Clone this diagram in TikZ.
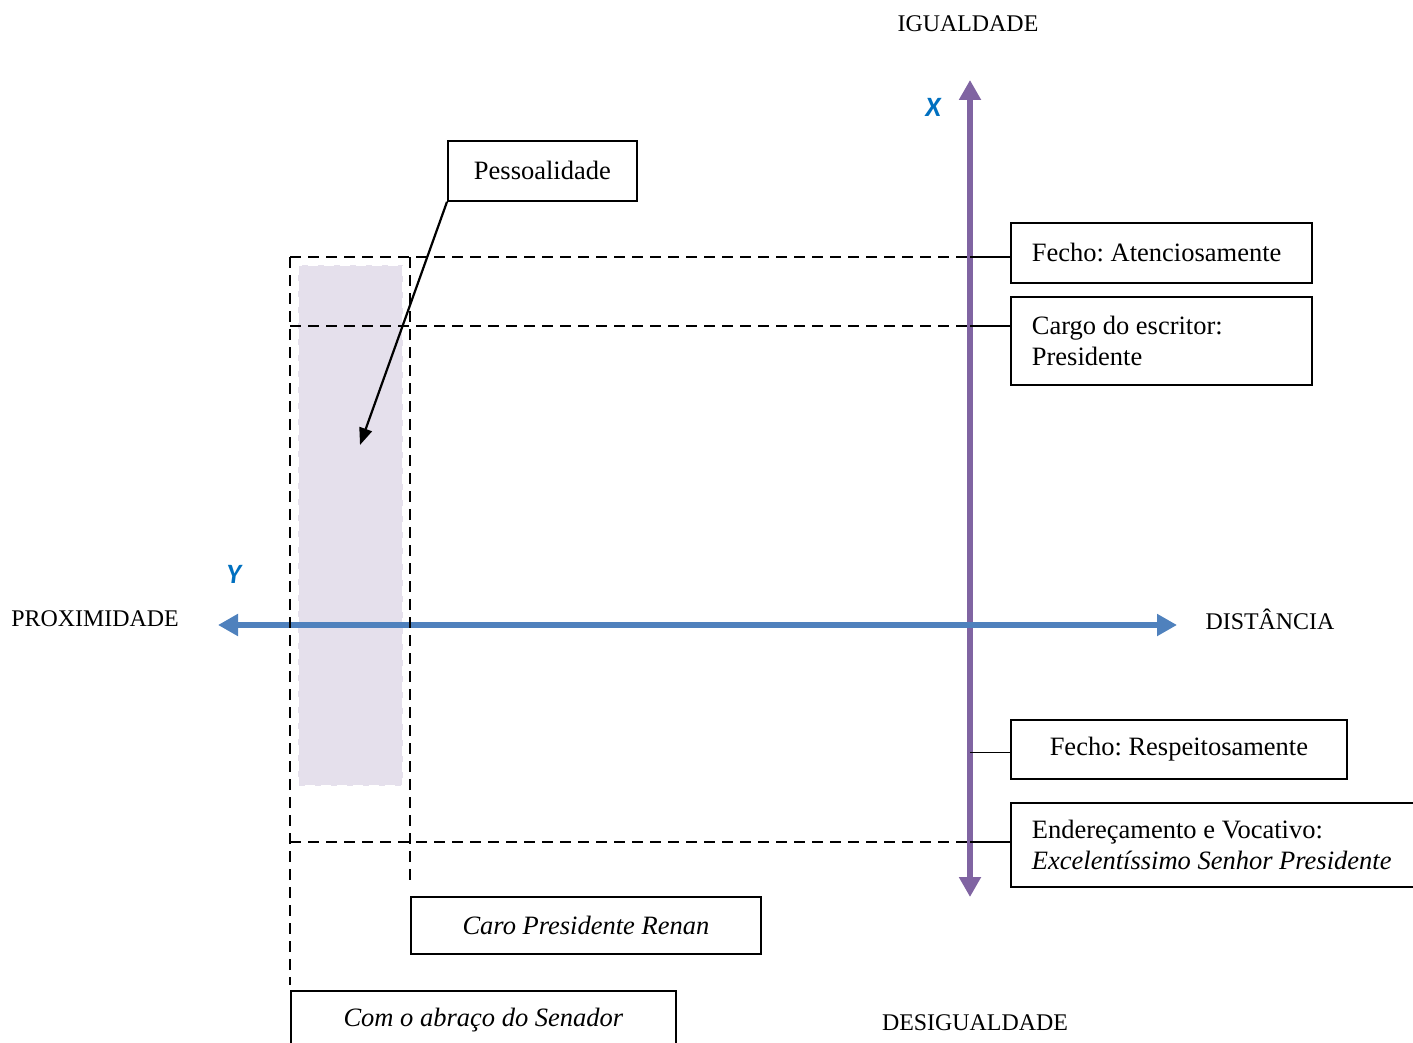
\documentclass[tikz,border=0pt]{standalone}
\usepackage{fontspec}
\setmainfont{Liberation Serif}
\newfontfamily\axisfont{Carlito}
\usepackage{tikz}
\usetikzlibrary{
  arrows.meta,
  positioning
}
\frenchspacing
\definecolor{AxisPurple}{RGB}{128,100,162}
\definecolor{AxisBlue}{RGB}{79,129,189}
\definecolor{LabelBlue}{RGB}{0,112,192}
\definecolor{ShadeLilac}{RGB}{229,224,236}
\newcommand{\boxfont}{\fontsize{26.5}{31}\selectfont}
\newcommand{\polefont}{\fontsize{23.9}{28}\selectfont}
\tikzset{
  textbox/.style={draw=black,line width=1.8pt,inner sep=0pt,align=center,font=\boxfont},
  leftbox/.style={draw=black,line width=1.8pt,inner xsep=21pt,inner ysep=0pt,align=left,font=\boxfont,
    execute at begin node={\spaceskip=0pt\xspaceskip=0pt}},
  guide/.style={draw=black,line width=1.8pt,dash pattern=on 11pt off 7pt},
  tie/.style={draw=black,line width=1.8pt},
  pointer/.style={-{Triangle[length=17pt,width=13pt]},line width=2.2pt,draw=black},
  axisx/.style={{Triangle[length=20pt,width=21pt]}-{Triangle[length=20pt,width=21pt]},line width=6.5pt,draw=AxisPurple},
  axisy/.style={{Triangle[length=20pt,width=21pt]}-{Triangle[length=20pt,width=21pt]},line width=6pt,draw=AxisBlue},
  polelabel/.style={font=\polefont,inner sep=0pt},
  axislabel/.style={font=\axisfont\bfseries\itshape\fontsize{28}{30}\selectfont,text=LabelBlue,inner sep=0pt}
}

\begin{document}
\begin{tikzpicture}[x=1pt,y=-1pt]
\useasboundingbox (0,0) rectangle (1413,1043);
\clip (0,0) rectangle (1413,1043);
% axis ends and frame corners
\coordinate (xtop) at (970,80);
\coordinate (xbot) at (970,897);
\coordinate (yleft) at (218,625);
\coordinate (yright) at (1177,625);
\coordinate (tl) at (290,257);
\coordinate (ml) at (290,326);
\coordinate (bl) at (290,842);
\coordinate (tin) at (410,257);
\coordinate (pesstip) at (360,445);
% shaded band
\fill[ShadeLilac] (298,265) rectangle (403,786);
\draw[white,line width=1.6pt,dash pattern=on 10pt off 6pt] (298,265) rectangle (403,786);
% boxes
\node[textbox,anchor=north west,minimum width=189pt,minimum height=60pt] (pess) at (447,140) {Pessoalidade};
\node[leftbox,anchor=north west,minimum height=60pt,text width=259pt] (fechoA) at (1010,222) {Fecho: Atenciosamente};
\node[leftbox,anchor=north west,minimum height=88pt,text width=259pt] (cargo) at (1010,296) {Cargo do escritor:\\Presidente};
\node[textbox,anchor=north west,minimum width=336pt,minimum height=59pt] (fechoR) at (1010,719) {Fecho: Respeitosamente};
\node[leftbox,anchor=north west,minimum height=84pt,text width=380pt] (ender) at (1010,802) {Endereçamento e Vocativo:\\\textit{Excelentíssimo Senhor Presidente}};
\node[textbox,anchor=north west,minimum width=350pt,minimum height=57pt] (caro) at (410,896) {\textit{Caro Presidente Renan}};
\node[textbox,anchor=north west,minimum width=385pt,minimum height=58pt] (abraco) at (290,990) {\textit{Com o abraço do Senador}};
% axes
\draw[axisx] (xtop) -- (xbot);
\draw[axisy] (yleft) -- (yright);
\node[axislabel] (xlab) at (933,107) {X};
\node[axislabel] (ylab) at (234,574) {Y};
% pole labels
\node[polelabel] (igual) at (968,24) {IGUALDADE};
\node[polelabel] (desigual) at (975,1023) {DESIGUALDADE};
\node[polelabel] (prox) at (95,619) {PROXIMIDADE};
\node[polelabel] (dist) at (1270,619) {DISTÂNCIA};
% dashed frame
\draw[guide] (tl) -- (xtop |- tl);
\draw[guide] (ml) -- (xtop |- ml);
\draw[guide] (bl) -- (xtop |- bl);
\draw[guide] (tl) -- ([yshift=5pt]abraco.north west);
\draw[guide] (tin) -- ([yshift=11pt]caro.north west);
% ties to the boxes
\draw[tie] (xtop |- tl) -- (fechoA.west |- tl);
\draw[tie] (xtop |- ml) -- (cargo.west |- ml);
\draw[tie] (xtop |- bl) -- (ender.west |- bl);
\draw[tie] ([yshift=-3pt]xtop |- fechoR.west) -- ([yshift=-3pt]fechoR.west);
% pointer
\draw[pointer] (pess.south west) -- (pesstip);
\end{tikzpicture}
\end{document}
